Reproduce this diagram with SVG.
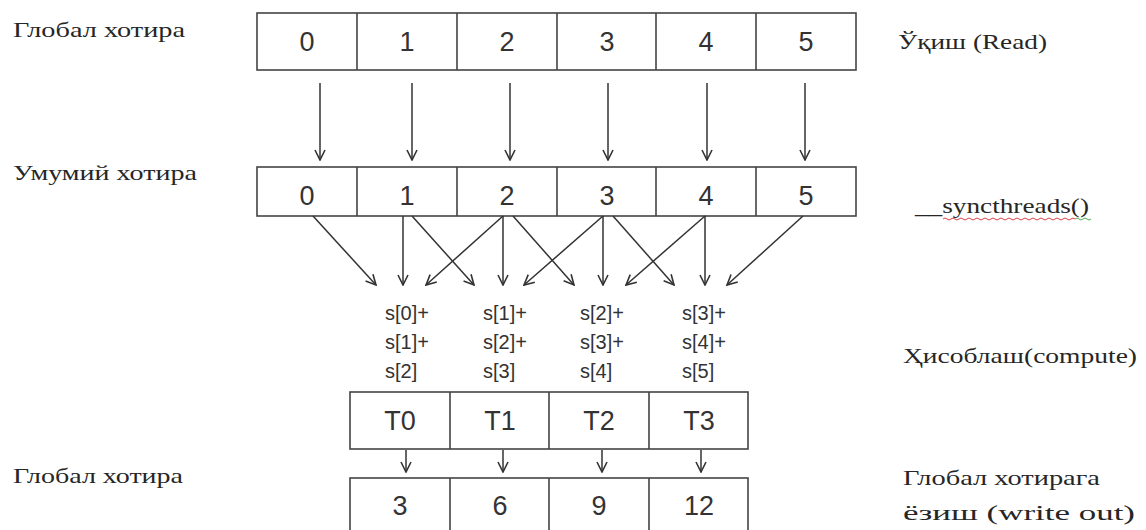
<svg xmlns="http://www.w3.org/2000/svg" width="1146" height="530" viewBox="0 0 1146 530">
<style>
.cell{fill:#fff;stroke:#444;stroke-width:1.6}
.div{stroke:#444;stroke-width:1.6}
.num{font-family:"Liberation Sans",Arial,sans-serif;font-size:27px;fill:#333;text-anchor:middle}
.sum{font-family:"Liberation Sans",Arial,sans-serif;font-size:20px;fill:#333}
.lbl{font-family:"Liberation Serif","Times New Roman","DejaVu Serif",serif;font-size:21px;fill:#262626}
.arr{stroke:#333;stroke-width:1.5;fill:none;marker-end:url(#ah)}
</style>
<defs>
<marker id="ah" viewBox="0 0 12 12" refX="11" refY="6" markerWidth="12" markerHeight="12" markerUnits="userSpaceOnUse" orient="auto">
<path d="M1,1 L11,6 L1,11" fill="none" stroke="#333" stroke-width="1.6"/>
</marker>
</defs>
<rect width="1146" height="530" fill="#fff"/>

<g id="labels">
<text class="lbl" x="13" y="37" textLength="172" lengthAdjust="spacingAndGlyphs">Глобал хотира</text>
<text class="lbl" x="13" y="180" textLength="184" lengthAdjust="spacingAndGlyphs">Умумий хотира</text>
<text class="lbl" x="13" y="483" textLength="170" lengthAdjust="spacingAndGlyphs">Глобал хотира</text>
<text class="lbl" x="898" y="49" textLength="149" lengthAdjust="spacingAndGlyphs">Ўқиш (Read)</text>
<text class="lbl" x="915" y="213" textLength="174" lengthAdjust="spacingAndGlyphs">__syncthreads()</text>
<path d="M943,219 q2,-2 4,0 t4,0 t4,0 t4,0 t4,0 t4,0 t4,0 t4,0 t4,0 t4,0 t4,0 t4,0 t4,0 t4,0 t4,0 t4,0 t4,0 t4,0 t4,0 t4,0 t4,0 t4,0 t4,0 t4,0 t4,0 t4,0 t4,0 t4,0 t4,0 t4,0 t4,0 t4,0 t4,0" fill="none" stroke="#d44" stroke-width="1"/>
<path d="M1075,219 q2,-2 4,0 t4,0 t4,0 t4,0" fill="none" stroke="#5a5" stroke-width="1"/>
<text class="lbl" x="903" y="363" textLength="234" lengthAdjust="spacingAndGlyphs">Ҳисоблаш(compute)</text>
<text class="lbl" x="903" y="485" textLength="197" lengthAdjust="spacingAndGlyphs">Глобал хотирага</text>
<text class="lbl" x="903" y="520" textLength="232" lengthAdjust="spacingAndGlyphs">ёзиш (write out)</text>
</g>

<g id="global-read">
<rect class="cell" x="257" y="13" width="599" height="57"/>
<path class="div" d="M357,13V70M457,13V70M557,13V70M656,13V70M756,13V70"/>
<text class="num" x="307" y="51">0</text>
<text class="num" x="407" y="51">1</text>
<text class="num" x="507" y="51">2</text>
<text class="num" x="607" y="51">3</text>
<text class="num" x="706" y="51">4</text>
<text class="num" x="806" y="51">5</text>
</g>

<g id="shared">
<rect class="cell" x="257" y="167" width="599" height="49"/>
<path class="div" d="M357,167V216M457,167V216M557,167V216M656,167V216M756,167V216"/>
<text class="num" x="307" y="205">0</text>
<text class="num" x="407" y="205">1</text>
<text class="num" x="507" y="205">2</text>
<text class="num" x="607" y="205">3</text>
<text class="num" x="706" y="205">4</text>
<text class="num" x="806" y="205">5</text>
</g>

<g id="sums">
<text class="sum" x="385" y="320">s[0]+</text>
<text class="sum" x="385" y="349">s[1]+</text>
<text class="sum" x="385" y="378">s[2]</text>
<text class="sum" x="483" y="320">s[1]+</text>
<text class="sum" x="483" y="349">s[2]+</text>
<text class="sum" x="483" y="378">s[3]</text>
<text class="sum" x="580" y="320">s[2]+</text>
<text class="sum" x="580" y="349">s[3]+</text>
<text class="sum" x="580" y="378">s[4]</text>
<text class="sum" x="682" y="320">s[3]+</text>
<text class="sum" x="682" y="349">s[4]+</text>
<text class="sum" x="682" y="378">s[5]</text>
</g>

<g id="threads">
<rect class="cell" x="350" y="392" width="398" height="57"/>
<path class="div" d="M450,392V449M549,392V449M649,392V449"/>
<text class="num" x="400" y="430">T0</text>
<text class="num" x="500" y="430">T1</text>
<text class="num" x="599" y="430">T2</text>
<text class="num" x="699" y="430">T3</text>
</g>

<g id="global-out">
<rect class="cell" x="350" y="478" width="398" height="57"/>
<path class="div" d="M450,478V535M549,478V535M649,478V535"/>
<text class="num" x="400" y="515">3</text>
<text class="num" x="500" y="515">6</text>
<text class="num" x="599" y="515">9</text>
<text class="num" x="699" y="515">12</text>
</g>

<g id="connectors">
<path class="arr" d="M320,83V160"/>
<path class="arr" d="M412,83V160"/>
<path class="arr" d="M510,83V160"/>
<path class="arr" d="M608,83V160"/>
<path class="arr" d="M707,83V160"/>
<path class="arr" d="M805,83V160"/>

<path class="arr" d="M313,216L376,285"/>
<path class="arr" d="M403,216V285"/>
<path class="arr" d="M412,216L474,285"/>
<path class="arr" d="M503,216L426,285"/>
<path class="arr" d="M503,216V285"/>
<path class="arr" d="M513,216L574,285"/>
<path class="arr" d="M603,216L524,285"/>
<path class="arr" d="M603,216V285"/>
<path class="arr" d="M613,216L674,285"/>
<path class="arr" d="M705,216L626,285"/>
<path class="arr" d="M705,216V285"/>
<path class="arr" d="M803,216L727,285"/>

<path class="arr" d="M406,450V472"/>
<path class="arr" d="M503,450V472"/>
<path class="arr" d="M602,450V472"/>
<path class="arr" d="M701,450V472"/>
</g>
</svg>
